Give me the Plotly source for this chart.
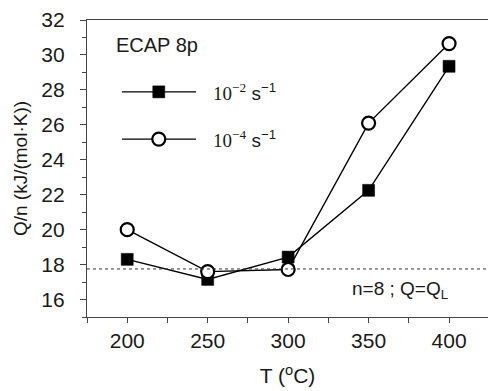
import plotly.graph_objects as go

T = [200, 250, 300, 350, 400]
q_fast = [18.3, 17.15, 18.43, 22.25, 29.35]   # 10^-2 s^-1
q_slow = [20.0, 17.6, 17.72, 26.1, 30.65]     # 10^-4 s^-1
QL = 17.75
x_ticks = [175, 200, 225, 250, 275, 300, 325, 350, 375, 400, 425]
x_labels = ["", "200", "", "250", "", "300", "", "350", "", "400", ""]
y_ticks = [16, 18, 20, 22, 24, 26, 28, 30, 32]

FONT = "Arial"
axc = "#444444"
txt = "#1a1a1a"

fig = go.Figure()
fig.add_trace(go.Scatter(x=T, y=q_fast, mode="lines+markers",
                         line=dict(color="black", width=1.4),
                         marker=dict(symbol="square", size=12, color="black",
                                     line=dict(color="black", width=0.5)),
                         showlegend=False, cliponaxis=False))
fig.add_trace(go.Scatter(x=T, y=q_slow, mode="lines+markers",
                         line=dict(color="black", width=1.4),
                         marker=dict(symbol="circle", size=13, color="white",
                                     line=dict(color="black", width=2.2)),
                         showlegend=False, cliponaxis=False))

# legend glyphs on an overlay axis in [0,1]
leg_x = [0.087, 0.179, 0.272]
for yy, sym, fill, lw in [(0.758, "square", "black", 0.5), (0.599, "circle", "white", 2.2)]:
    fig.add_trace(go.Scatter(x=leg_x, y=[yy] * 3, xaxis="x2", yaxis="y2",
                             mode="lines+markers",
                             line=dict(color="black", width=1.4),
                             marker=dict(symbol=sym, size=[0, 12 if sym == "square" else 13, 0],
                                         color=fill, opacity=1,
                                         line=dict(color="black", width=lw)),
                             showlegend=False))

fig.add_shape(type="line", xref="paper", yref="y", x0=0, x1=1, y0=QL, y1=QL,
              line=dict(color="#333333", width=1, dash="dot"))

fig.update_layout(
    width=488, height=391,
    margin=dict(l=87, r=0, t=20, b=74),
    plot_bgcolor="white", paper_bgcolor="white",
    font=dict(family=FONT, size=20, color=txt),
    xaxis=dict(range=[175, 424.2], tickvals=x_ticks, ticktext=x_labels,
               tickfont=dict(family=FONT, size=21, color=txt),
               ticks="outside", ticklen=5, tickcolor=axc, showline=True,
               linecolor=axc, linewidth=1.2, mirror=True, showgrid=False,
               zeroline=False,
               title=dict(text="T (<sup>o</sup>C)", font=dict(family=FONT, size=21, color=txt),
                          standoff=17)),
    yaxis=dict(range=[15, 32], tickvals=y_ticks, ticks="outside", ticklen=6,
               tickfont=dict(family=FONT, size=21, color=txt), ticklabelstandoff=11,
               tickcolor=axc, showline=True, linecolor=axc, linewidth=1.2,
               showgrid=False, zeroline=False,
               minor=dict(dtick=1, tick0=15, ticks="outside", ticklen=4, tickcolor=axc),
               title=dict(text="Q/n (kJ/(mol·K))", font=dict(family=FONT, size=19, color=txt),
                          standoff=8)),
    xaxis2=dict(range=[0, 1], overlaying="x", visible=False),
    yaxis2=dict(range=[0, 1], overlaying="y", visible=False),
)

sup = "<span style='font-family:Liberation Serif, Times New Roman, serif'>10<sup>−%d</sup></span> s<sup>−1</sup>"
for yy, e in [(0.758, 2), (0.599, 4)]:
    fig.add_annotation(x=0.31, y=yy, xref="paper", yref="paper", text=sup % e,
                       showarrow=False, xanchor="left", yanchor="middle",
                       font=dict(family=FONT, size=19, color=txt))
fig.add_annotation(x=0.068, y=0.916, xref="paper", yref="paper", text="ECAP 8p",
                   showarrow=False, xanchor="left", yanchor="middle",
                   font=dict(family=FONT, size=20, color=txt))
fig.add_annotation(x=0.657, y=0.091, xref="paper", yref="paper", text="n=8 ; Q=Q<sub>L</sub>",
                   showarrow=False, xanchor="left", yanchor="middle",
                   font=dict(family=FONT, size=19, color=txt))

fig.write_html("out.html")
